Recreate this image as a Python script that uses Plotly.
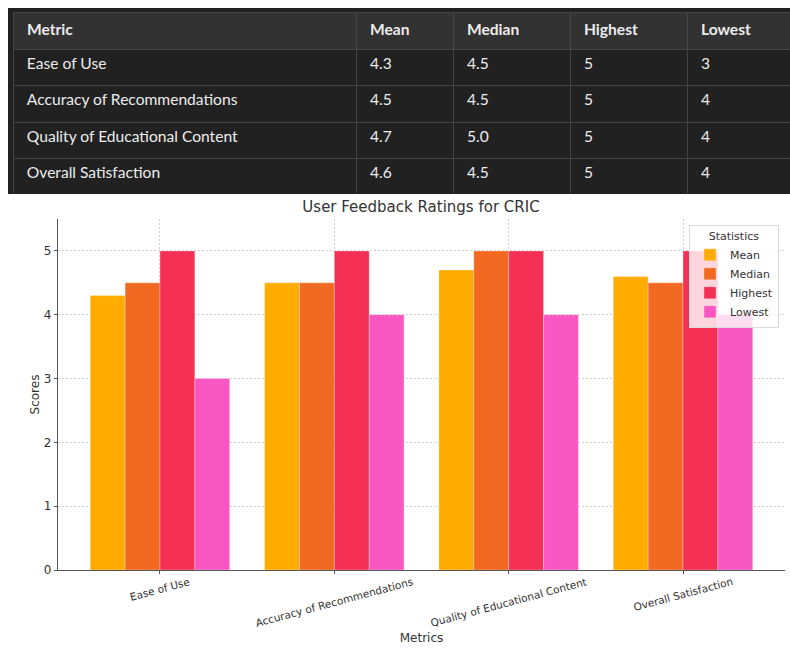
import plotly.graph_objects as go

# ---------------- data ----------------
metrics = ["Ease of Use", "Accuracy of Recommendations",
           "Quality of Educational Content", "Overall Satisfaction"]
stat_names = ["Mean", "Median", "Highest", "Lowest"]
mean_vals = [4.3, 4.5, 4.7, 4.6]
median_vals = [4.5, 4.5, 5.0, 4.5]
highest_vals = [5, 5, 5, 5]
lowest_vals = [3, 4, 4, 4]
y_ticks = [0, 1, 2, 3, 4, 5]
table_header = ["Metric"] + stat_names

bar_colors = ["#FFAB00", "#F26922", "#F43155", "#F857C1"]

W, H = 790, 649


def fx(px):
    return px / W


def fy(px):
    return 1 - px / H


fig = go.Figure()

# ---------------- table ----------------
tbl_font = dict(family="Lato", size=15.6, color="#ECECEC")
pad = "\u00a0\u2009"
fig.add_trace(go.Table(
    domain=dict(x=[fx(13), 1.0], y=[fy(193), fy(12)]),
    columnwidth=[343, 97, 117, 117, 103],
    header=dict(values=[f"<b>{h}</b>" for h in table_header], prefix=pad,
                fill_color="#323232", line_color="#444444",
                align="left", font=tbl_font, height=37),
    cells=dict(values=[metrics, mean_vals, median_vals, highest_vals, lowest_vals],
               format=["", ".1f", ".1f", "d", "d"],
               prefix=["\u2009\u200a", pad, pad, pad, pad],
               fill_color="#212121", line_color="#444444",
               align="left", font=tbl_font, height=36.5),
))

# ---------------- bars ----------------
series = [mean_vals, median_vals, highest_vals, lowest_vals]
for name, vals, col in zip(stat_names, series, bar_colors):
    fig.add_trace(go.Bar(
        x=metrics, y=vals, name=name,
        marker=dict(color=col, line=dict(color="rgba(255,255,255,0.5)", width=0.6)),
    ))

axis_font = dict(family="DejaVu Sans", size=12, color="#333333")

annotations = []
for m in metrics:
    annotations.append(dict(
        x=m, y=0, xref="x", yref="y", text=m, showarrow=False,
        textangle=-15, xanchor="center", yanchor="top", yshift=-3,
        font=dict(family="DejaVu Sans", size=10.5, color="#333333"),
    ))

fig.update_layout(
    width=W, height=H,
    margin=dict(l=0, r=0, t=0, b=0),
    paper_bgcolor="white", plot_bgcolor="white",
    font=dict(family="DejaVu Sans", color="#333333"),
    barmode="group", bargap=0.2, bargroupgap=0.0,
    title=dict(text="User Feedback Ratings for CRIC",
               x=fx(421), y=fy(207), xanchor="center", yanchor="middle",
               xref="paper", yref="container",
               font=dict(family="DejaVu Sans", size=15, color="#333333")),
    xaxis=dict(
        domain=[fx(58), fx(785)], range=[-0.585, 3.585], automargin=False,
        showline=True, linecolor="#555555", linewidth=1.2,
        showgrid=True, gridcolor="#cfcfcf", griddash="2px,2px", gridwidth=0.7,
        showticklabels=False, ticks="outside", ticklen=3, tickcolor="#555555",
        title=dict(text="Metrics", font=axis_font, standoff=60),
    ),
    yaxis=dict(
        domain=[fy(570), fy(219)], range=[0, 5.5], tickvals=y_ticks,
        automargin=False,
        showline=True, linecolor="#555555", linewidth=1.2,
        showgrid=True, gridcolor="#cfcfcf", griddash="2px,2px", gridwidth=0.7,
        zeroline=False, ticks="outside", ticklen=3, tickcolor="#555555",
        tickfont=axis_font,
        title=dict(text="Scores", font=axis_font, standoff=1),
    ),
    legend=dict(
        title=dict(text="Statistics", side="top center",
                   font=dict(family="DejaVu Sans", size=11, color="#333333")),
        font=dict(family="DejaVu Sans", size=11, color="#333333"),
        x=fx(779), y=fy(225), xanchor="right", yanchor="top",
        xref="paper", yref="paper",
        bgcolor="rgba(255,255,255,0.8)", bordercolor="#d9d9d9", borderwidth=1,
        itemwidth=30,
    ),
    annotations=annotations,
    shapes=[dict(type="rect", xref="paper", yref="paper",
                 x0=fx(8), x1=1.0, y0=fy(194), y1=fy(8),
                 fillcolor="#212121", line=dict(width=0), layer="below")],
)

fig.write_html("out.html")
